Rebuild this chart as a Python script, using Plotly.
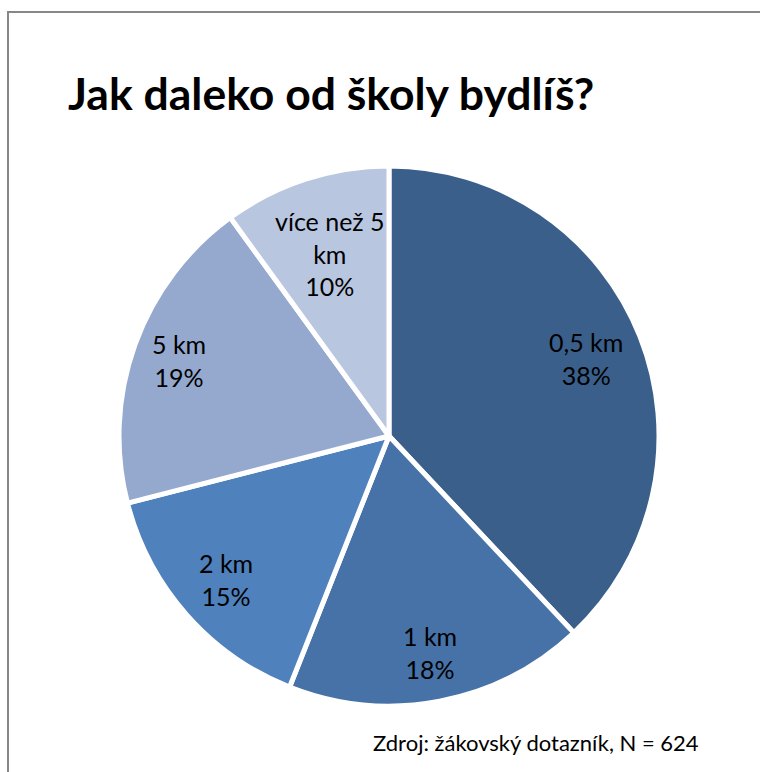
import math
import plotly.graph_objects as go

categories = ["0,5 km", "1 km", "2 km", "5 km", "více než 5<br>km"]
values = [38, 18, 15, 19, 10]
colors = ["#3A5F8B", "#4672A8", "#4F81BD", "#95A9CF", "#B9C6E0"]
title_text = "Jak daleko od školy bydlíš?"
source_text = "Zdroj: žákovský dotazník, N = 624"

W, H = 760, 772
CX, CY, R = 389, 436, 270
LINE_W = 5
LABEL_SIZE = 25
LINE_H = 32
CHAR_W = 0.45 * 26
EDGE_GAP = 14
FRAME_COLOR = "#878787"

fig = go.Figure()
fig.add_trace(go.Pie(
    labels=categories,
    values=values,
    sort=False,
    direction="clockwise",
    rotation=0,
    textinfo="none",
    hoverinfo="label+percent",
    marker=dict(colors=colors, line=dict(color="white", width=LINE_W)),
    domain=dict(x=[(CX - R) / W, (CX + R) / W],
                y=[(H - CY - R) / H, (H - CY + R) / H]),
    showlegend=False,
))

# data labels: box pushed inside the slice along its mid-angle (best-fit style)
total = sum(values)
cum = 0
annotations = []
for cat, v in zip(categories, values):
    mid = (cum + v / 2) / total * 2 * math.pi
    cum += v
    pct = round(v / total * 100)
    lines = cat.split("<br>") + [f"{pct}%"]
    hw = max(len(s) for s in lines) * CHAR_W / 2
    hh = len(lines) * LINE_H / 2
    s, c = math.sin(mid), math.cos(mid)
    r = (R - EDGE_GAP) - (hw * abs(s) + hh * abs(c))
    px = CX + r * s
    py = CY - r * c
    annotations.append(dict(
        x=px / W, y=1 - py / H, xref="paper", yref="paper",
        text=f"{cat}<br>{pct}%", showarrow=False,
        xanchor="center", yanchor="middle", align="center",
        font=dict(family="Lato", size=LABEL_SIZE, color="#000000"),
    ))

annotations.append(dict(
    x=66 / W, y=1 - 93 / H, xref="paper", yref="paper",
    text=f"<b>{title_text}</b>", showarrow=False,
    xanchor="left", yanchor="middle",
    font=dict(family="Lato", size=44.5, color="#000000"),
))
annotations.append(dict(
    x=701 / W, y=1 - 742 / H, xref="paper", yref="paper",
    text=source_text, showarrow=False,
    xanchor="right", yanchor="middle",
    font=dict(family="Lato", size=22, color="#000000"),
))

# chart-area frame drawn as thin filled bands (top and left edges only)
fig.update_layout(
    width=W, height=H,
    margin=dict(l=0, r=0, t=0, b=0),
    paper_bgcolor="white",
    annotations=annotations,
    shapes=[
        dict(type="rect", xref="paper", yref="paper",
             x0=7 / W, x1=9 / W, y0=0, y1=1 - 11 / H,
             fillcolor=FRAME_COLOR, line=dict(width=0)),
        dict(type="rect", xref="paper", yref="paper",
             x0=7 / W, x1=1, y0=1 - 13 / H, y1=1 - 11 / H,
             fillcolor=FRAME_COLOR, line=dict(width=0)),
    ],
)

fig.write_html("out.html", config={"displayModeBar": False})
